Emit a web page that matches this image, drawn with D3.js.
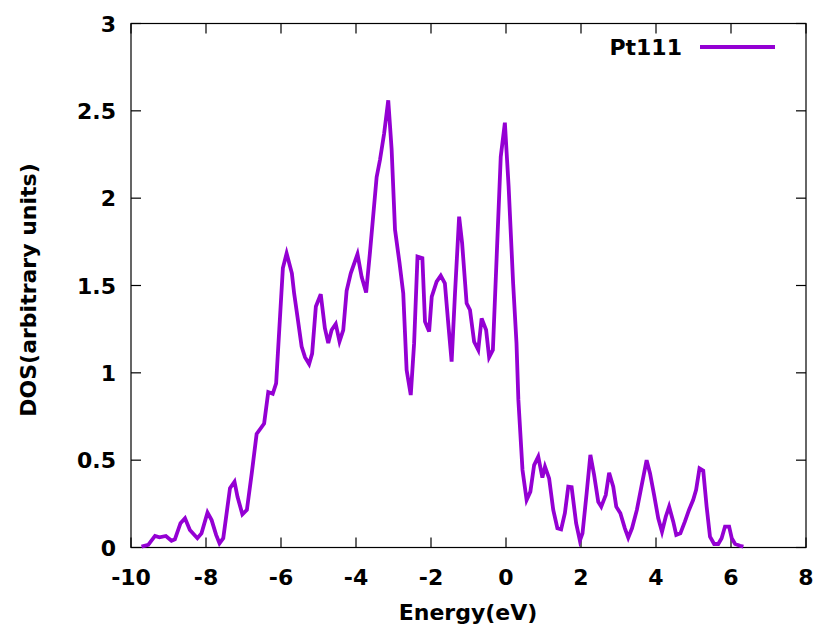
<!DOCTYPE html>
<html>
<head>
<meta charset="utf-8">
<script src="https://cdn.jsdelivr.net/npm/d3@7"></script>
<style>
  html, body { margin: 0; padding: 0; background: #fff; }
  svg { display: block; }
  text { font-family: "DejaVu Sans", sans-serif; font-weight: bold; fill: #000; }
</style>
</head>
<body>
<svg id="chart" width="822" height="627"></svg>
<script>
const seriesName = "Pt111";
const energy = [-9.72,-9.54,-9.36,-9.24,-9.07,-8.92,-8.83,-8.68,-8.56,-8.43,-8.23,-8.12,-7.96,-7.85,-7.73,-7.64,-7.54,-7.36,-7.24,-7.16,-7.03,-6.91,-6.78,-6.65,-6.45,-6.34,-6.22,-6.13,-5.95,-5.85,-5.71,-5.65,-5.56,-5.45,-5.36,-5.25,-5.17,-5.07,-4.94,-4.83,-4.74,-4.65,-4.54,-4.44,-4.34,-4.25,-4.14,-3.96,-3.85,-3.73,-3.63,-3.45,-3.36,-3.25,-3.14,-3.05,-2.96,-2.84,-2.74,-2.65,-2.54,-2.45,-2.36,-2.23,-2.16,-2.05,-1.98,-1.85,-1.74,-1.63,-1.54,-1.45,-1.36,-1.25,-1.17,-1.05,-0.96,-0.85,-0.74,-0.65,-0.53,-0.45,-0.35,-0.14,-0.03,0.07,0.19,0.28,0.33,0.44,0.55,0.65,0.75,0.86,0.97,1.04,1.15,1.26,1.37,1.47,1.57,1.66,1.75,1.87,1.97,2.04,2.15,2.25,2.35,2.46,2.54,2.66,2.75,2.86,2.94,3.05,3.17,3.26,3.36,3.49,3.62,3.75,3.84,3.95,4.06,4.16,4.26,4.35,4.46,4.54,4.65,4.77,4.88,4.99,5.07,5.16,5.26,5.35,5.44,5.55,5.66,5.75,5.84,5.95,6.02,6.11,6.24,6.33];
const dos = [0.005,0.015,0.066,0.058,0.066,0.039,0.047,0.139,0.167,0.10,0.053,0.081,0.20,0.157,0.072,0.024,0.053,0.34,0.377,0.29,0.19,0.215,0.425,0.65,0.71,0.89,0.88,0.94,1.60,1.684,1.57,1.455,1.32,1.15,1.09,1.05,1.11,1.38,1.45,1.255,1.17,1.245,1.28,1.18,1.245,1.47,1.57,1.68,1.55,1.46,1.684,2.12,2.22,2.37,2.56,2.28,1.82,1.63,1.455,1.016,0.873,1.17,1.665,1.656,1.293,1.236,1.436,1.522,1.556,1.512,1.283,1.064,1.455,1.894,1.742,1.398,1.36,1.178,1.131,1.312,1.245,1.089,1.131,2.237,2.432,2.066,1.513,1.169,0.845,0.444,0.272,0.32,0.472,0.52,0.40,0.463,0.396,0.215,0.11,0.104,0.196,0.348,0.345,0.139,0.039,0.081,0.31,0.53,0.415,0.262,0.234,0.30,0.428,0.348,0.234,0.196,0.11,0.056,0.11,0.215,0.358,0.50,0.425,0.30,0.167,0.09,0.176,0.234,0.148,0.072,0.081,0.148,0.215,0.272,0.33,0.453,0.44,0.234,0.062,0.02,0.02,0.053,0.12,0.12,0.053,0.02,0.01,0.005];
const xTicks = [-10,-8,-6,-4,-2,0,2,4,6,8];
const yTicks = [0,0.5,1,1.5,2,2.5,3];
const yTickLabels = ["0","0.5","1","1.5","2","2.5","3"];
const xTitle = "Energy(eV)";
const yTitle = "DOS(arbitrary units)";

const svg = d3.select("#chart");
const L = 131, R = 806, T = 23.5, B = 547.5;
const x = d3.scaleLinear().domain([-10, 8]).range([L, R]);
const y = d3.scaleLinear().domain([0, 3]).range([B, T]);
const color = "#9400d3";
const tickLen = 10;
const fs = 22;

// frame
svg.append("rect").attr("x", L).attr("y", T).attr("width", R - L).attr("height", B - T)
  .attr("fill", "none").attr("stroke", "#000").attr("stroke-width", 1.2);

// ticks (inward, mirrored)
const g = svg.append("g").attr("stroke", "#000").attr("stroke-width", 1.2);
xTicks.forEach(v => {
  g.append("line").attr("x1", x(v)).attr("x2", x(v)).attr("y1", B).attr("y2", B - tickLen);
  g.append("line").attr("x1", x(v)).attr("x2", x(v)).attr("y1", T).attr("y2", T + tickLen);
});
yTicks.forEach(v => {
  g.append("line").attr("x1", L).attr("x2", L + tickLen).attr("y1", y(v)).attr("y2", y(v));
  g.append("line").attr("x1", R).attr("x2", R - tickLen).attr("y1", y(v)).attr("y2", y(v));
});

// tick labels
svg.append("g").selectAll("text").data(xTicks).join("text")
  .attr("x", d => x(d)).attr("y", 585).attr("text-anchor", "middle")
  .attr("font-size", fs).text(d => d);
svg.append("g").selectAll("text").data(yTicks).join("text")
  .attr("x", 116).attr("y", d => y(d) + 8).attr("text-anchor", "end")
  .attr("font-size", fs).text((d, i) => yTickLabels[i]);

// axis titles
svg.append("text").attr("x", 468).attr("y", 620).attr("text-anchor", "middle")
  .attr("font-size", fs).text(xTitle);
svg.append("text").attr("transform", "translate(36,290) rotate(-90)")
  .attr("text-anchor", "middle").attr("font-size", fs).text(yTitle);

// line
const pts = energy.map((e, i) => [e, dos[i]]);
svg.append("path").datum(pts)
  .attr("fill", "none").attr("stroke", color).attr("stroke-width", 3.8)
  .attr("stroke-linejoin", "miter")
  .attr("d", d3.line().x(d => x(d[0])).y(d => y(d[1])));

// legend
svg.append("text").attr("x", 682).attr("y", 55).attr("text-anchor", "end")
  .attr("font-size", fs).text(seriesName);
svg.append("line").attr("x1", 700).attr("x2", 775).attr("y1", 47).attr("y2", 47)
  .attr("stroke", color).attr("stroke-width", 3.8);
</script>
</body>
</html>
